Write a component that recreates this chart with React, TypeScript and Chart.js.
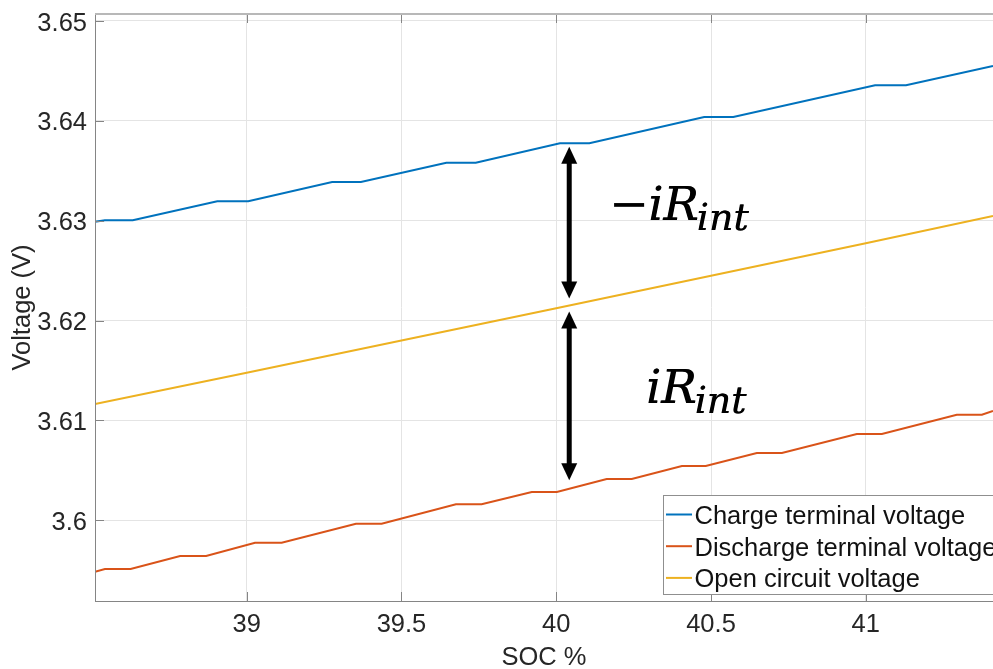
import React, { useEffect, useRef } from 'react';
import { Chart, registerables } from 'chart.js';

Chart.register(...registerables);

// ---- data ----
const chargeSoc = [38.51, 38.542, 38.632, 38.905, 39.005, 39.276, 39.369, 39.645, 39.74, 40.012, 40.107, 40.478, 40.572, 41.03, 41.13, 41.411];
const chargeVolt = [3.6299, 3.63004, 3.63004, 3.63194, 3.63194, 3.63388, 3.63388, 3.63581, 3.63581, 3.63775, 3.63775, 3.64039, 3.64039, 3.64356, 3.64356, 3.64549];

const dischargeSoc = [38.51, 38.542, 38.625, 38.785, 38.869, 39.027, 39.113, 39.353, 39.436, 39.676, 39.759, 39.921, 40.002, 40.163, 40.244, 40.406, 40.483, 40.648, 40.729, 40.971, 41.052, 41.294, 41.375, 41.411];
const dischargeVolt = [3.59485, 3.59512, 3.59512, 3.59642, 3.59642, 3.59776, 3.59776, 3.59966, 3.59966, 3.6016, 3.6016, 3.60283, 3.60283, 3.60414, 3.60414, 3.60544, 3.60544, 3.60674, 3.60674, 3.60864, 3.60864, 3.61057, 3.61057, 3.61095];

const ocvSoc = [38.51, 39.0, 40.0, 41.0, 41.411];
const ocvVolt = [3.61165, 3.61478, 3.62123, 3.62774, 3.63047];

const seriesLabels = ['Charge terminal voltage', 'Discharge terminal voltage', 'Open circuit voltage'];
const seriesColors = ['#0072BD', '#D95319', '#EDB120'];

const xTicks = [39, 39.5, 40, 40.5, 41];
const xTickLabels = ['39', '39.5', '40', '40.5', '41'];
const yTicks = [3.6, 3.61, 3.62, 3.63, 3.64, 3.65];
const yTickLabels = ['3.6', '3.61', '3.62', '3.63', '3.64', '3.65'];
const xRange = [38.51, 41.411];
const yRange = [3.59192, 3.6507];

const xTitle = 'SOC %';
const yTitle = 'Voltage (V)';

// annotation (arrows and iR labels), in data units
const arrowSoc = 40.042;
const upperArrowVolt = [3.6374, 3.6222];
const lowerArrowVolt = [3.6209, 3.604];
const labelSoc = [40.297, 40.29];
const labelVolt = [3.63007, 3.61172];
const labelPrefix = ['\u2212', ''];

const SANS = '"Liberation Sans", Arial, Helvetica, sans-serif';
const SERIF = '"DejaVu Serif", "Liberation Serif", serif';
const TEXT = '#262626';
const AXIS = '#858585';
const FS = 25.5;

function zip(xs: number[], ys: number[]) {
  return xs.map((x, i) => ({ x, y: ys[i] }));
}

function drawArrow(ctx: CanvasRenderingContext2D, x: number, y1: number, y2: number) {
  const head = 17;
  const half = 8;
  ctx.fillStyle = '#000';
  ctx.strokeStyle = '#000';
  ctx.lineWidth = 5;
  ctx.beginPath();
  ctx.moveTo(x, y1 + head - 2);
  ctx.lineTo(x, y2 - head + 2);
  ctx.stroke();
  ctx.beginPath();
  ctx.moveTo(x, y1);
  ctx.lineTo(x - half, y1 + head);
  ctx.lineTo(x + half, y1 + head);
  ctx.closePath();
  ctx.fill();
  ctx.beginPath();
  ctx.moveTo(x, y2);
  ctx.lineTo(x - half, y2 - head);
  ctx.lineTo(x + half, y2 - head);
  ctx.closePath();
  ctx.fill();
}

const framePlugin = {
  id: 'frame',
  afterDatasetsDraw(chart: any) {
    const { ctx, chartArea: a, scales } = chart;
    const xs = scales.x;
    const ys = scales.y;
    ctx.save();

    // arrows
    const ax = xs.getPixelForValue(arrowSoc);
    drawArrow(ctx, ax, ys.getPixelForValue(upperArrowVolt[0]), ys.getPixelForValue(upperArrowVolt[1]));
    drawArrow(ctx, ax, ys.getPixelForValue(lowerArrowVolt[0]), ys.getPixelForValue(lowerArrowVolt[1]));

    // labels  (−)iR_int
    ctx.fillStyle = '#000';
    ctx.textBaseline = 'alphabetic';
    for (let i = 0; i < labelSoc.length; i++) {
      const lx = xs.getPixelForValue(labelSoc[i]);
      const ly = ys.getPixelForValue(labelVolt[i]);
      if (labelPrefix[i]) {
        ctx.font = `48px ${SERIF}`;
        ctx.textAlign = 'right';
        ctx.fillText(labelPrefix[i], lx + 1, ly);
      }
      ctx.font = `italic 47px ${SERIF}`;
      ctx.textAlign = 'left';
      ctx.fillText('iR', lx, ly);
      ctx.fillText('iR', lx + 0.6, ly);
      const w = ctx.measureText('iR').width;
      ctx.font = `italic 38px ${SERIF}`;
      ctx.fillText('int', lx + w - 2, ly + 10);
      ctx.fillText('int', lx + w - 1.5, ly + 10);
    }

    // axes
    ctx.lineWidth = 1;
    ctx.strokeStyle = AXIS;
    ctx.beginPath();
    ctx.moveTo(a.left + 0.5, a.top);
    ctx.lineTo(a.left + 0.5, a.bottom + 1);
    ctx.moveTo(a.left, a.bottom + 0.5);
    ctx.lineTo(a.right, a.bottom + 0.5);
    // inward ticks
    yTicks.forEach((v) => {
      const py = Math.round(ys.getPixelForValue(v)) + 0.5;
      ctx.moveTo(a.left, py);
      ctx.lineTo(a.left + 9, py);
    });
    xTicks.forEach((v) => {
      const px = Math.round(xs.getPixelForValue(v)) + 0.5;
      ctx.moveTo(px, a.bottom);
      ctx.lineTo(px, a.bottom - 9);
      ctx.moveTo(px, a.top);
      ctx.lineTo(px, a.top + 9);
    });
    ctx.stroke();
    ctx.strokeStyle = '#b8b8b8';
    ctx.lineWidth = 2;
    ctx.beginPath();
    ctx.moveTo(a.left, a.top);
    ctx.lineTo(a.right, a.top);
    ctx.stroke();
    ctx.restore();
  },
  afterDraw(chart: any) {
    const { ctx, chartArea: a } = chart;
    ctx.save();
    const left = a.left + 568.5;
    const top = a.bottom - 105.5;
    const h = 99;
    ctx.fillStyle = '#fff';
    ctx.fillRect(left, top, 400, h);
    ctx.strokeStyle = '#8f8f8f';
    ctx.lineWidth = 1;
    ctx.strokeRect(left, top, 400, h);
    ctx.font = `${FS}px ${SANS}`;
    ctx.textAlign = 'left';
    ctx.textBaseline = 'alphabetic';
    chart.data.datasets.forEach((ds: any, i: number) => {
      const cy = top + 19 + i * 31.7;
      ctx.strokeStyle = ds.borderColor;
      ctx.lineWidth = 2;
      ctx.beginPath();
      ctx.moveTo(left + 2.5, cy);
      ctx.lineTo(left + 28.5, cy);
      ctx.stroke();
      ctx.fillStyle = '#111';
      ctx.fillText(ds.label, left + 31, cy + 9.5);
    });
    ctx.restore();
  },
};

export default function App() {
  const canvasRef = useRef<HTMLCanvasElement | null>(null);

  useEffect(() => {
    const canvas = canvasRef.current;
    if (!canvas) return;
    const seriesX = [chargeSoc, dischargeSoc, ocvSoc];
    const seriesY = [chargeVolt, dischargeVolt, ocvVolt];
    const chart = new Chart(canvas, {
      type: 'line',
      data: {
        datasets: seriesLabels.map((label, i) => ({
          label,
          data: zip(seriesX[i], seriesY[i]),
          borderColor: seriesColors[i],
          backgroundColor: seriesColors[i],
          borderWidth: 2,
          pointRadius: 0,
          tension: 0,
          fill: false,
        })),
      },
      options: {
        responsive: false,
        animation: false,
        devicePixelRatio: 1,
        layout: { padding: { top: 14, left: 0, right: 0, bottom: 0 } },
        plugins: { legend: { display: false }, tooltip: { enabled: false } },
        scales: {
          x: {
            type: 'linear',
            min: xRange[0],
            max: xRange[1],
            afterBuildTicks: (s: any) => {
              s.ticks = xTicks.map((v) => ({ value: v }));
            },
            afterFit: (s: any) => {
              s.height = 68;
              s.paddingLeft = 0;
              s.paddingRight = 0;
            },
            ticks: {
              autoSkip: false,
              maxRotation: 0,
              padding: 9,
              color: TEXT,
              font: { family: SANS, size: FS },
              callback: (_v: any, i: number) => xTickLabels[i],
            },
            grid: { color: '#e4e4e4', drawTicks: false, lineWidth: 1 },
            border: { display: false },
            title: {
              display: true,
              text: xTitle,
              color: TEXT,
              font: { family: SANS, size: FS, lineHeight: 1 },
              padding: { top: 0, bottom: -2 },
            },
          },
          y: {
            type: 'linear',
            min: yRange[0],
            max: yRange[1],
            afterBuildTicks: (s: any) => {
              s.ticks = yTicks.map((v) => ({ value: v }));
            },
            afterFit: (s: any) => {
              s.width = 95;
              s.paddingTop = 0;
              s.paddingBottom = 0;
            },
            ticks: {
              autoSkip: false,
              padding: 8,
              labelOffset: 2.5,
              color: TEXT,
              font: { family: SANS, size: FS },
              callback: (_v: any, i: number) => yTickLabels[i],
            },
            grid: { color: '#e4e4e4', drawTicks: false, lineWidth: 1 },
            border: { display: false },
            title: {
              display: true,
              text: yTitle,
              color: TEXT,
              font: { family: SANS, size: FS, lineHeight: 1 },
              padding: { top: 10, bottom: 0 },
            },
          },
        },
      },
      plugins: [framePlugin],
    } as any);
    return () => chart.destroy();
  }, []);

  return (
    <div style={{ position: 'fixed', left: 0, top: 0, width: 993, height: 669, background: '#fff', overflow: 'hidden' }}>
      <canvas ref={canvasRef} width={993} height={669} style={{ display: 'block' }} />
    </div>
  );
}
